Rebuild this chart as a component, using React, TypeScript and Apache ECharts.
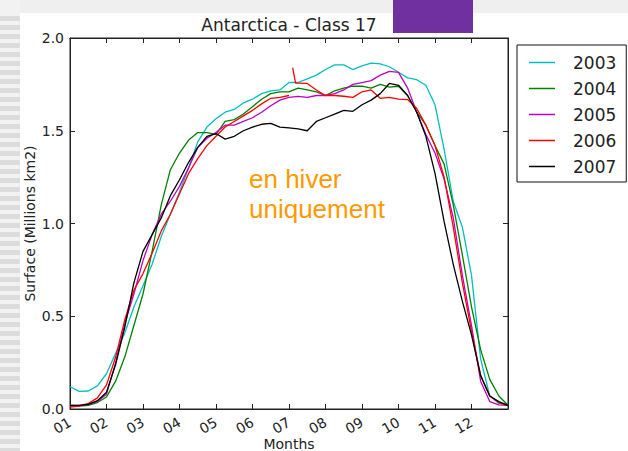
import React, { useEffect, useRef } from 'react';
import * as echarts from 'echarts';

const monthTicks = ['01', '02', '03', '04', '05', '06', '07', '08', '09', '10', '11', '12'];
const years = ['2003', '2004', '2005', '2006', '2007'];
const colors = ['#00bfbf', '#008000', '#bf00bf', '#ff0000', '#000000'];

// sample positions, in months from 1 January
const monthPos = [
  0, 0.25, 0.5, 0.75, 1, 1.25, 1.5, 1.75, 2, 2.25, 2.5, 2.75,
  3, 3.25, 3.5, 3.75, 4, 4.25, 4.5, 4.75, 5, 5.25, 5.5, 5.75,
  6, 6.25, 6.5, 6.75, 7, 7.25, 7.5, 7.75, 8, 8.25, 8.5, 8.75,
  9, 9.25, 9.5, 9.75, 10, 10.25, 10.5, 10.75, 11, 11.25, 11.5, 11.75, 12,
];

const s2003 = [
  0.12, 0.095, 0.097, 0.125, 0.19, 0.30, 0.41, 0.55, 0.665, 0.78, 0.93, 1.05,
  1.17, 1.30, 1.44, 1.52, 1.565, 1.60, 1.615, 1.65, 1.67, 1.70, 1.715, 1.72,
  1.76, 1.76, 1.78, 1.80, 1.83, 1.855, 1.855, 1.83, 1.85, 1.865, 1.86, 1.845,
  1.815, 1.785, 1.775, 1.745, 1.64, 1.40, 1.12, 0.98, 0.72, 0.27, 0.07, 0.03, 0.02,
];
const s2004 = [
  0.015, 0.015, 0.02, 0.035, 0.065, 0.15, 0.28, 0.45, 0.62, 0.85, 1.10, 1.29,
  1.38, 1.45, 1.49, 1.49, 1.48, 1.55, 1.56, 1.59, 1.63, 1.67, 1.70, 1.71,
  1.71, 1.73, 1.72, 1.71, 1.69, 1.715, 1.73, 1.74, 1.74, 1.73, 1.75, 1.735,
  1.74, 1.69, 1.60, 1.53, 1.42, 1.32, 1.10, 0.83, 0.55, 0.32, 0.16, 0.07, 0.02,
];
const s2005 = [
  0.02, 0.02, 0.025, 0.04, 0.08, 0.25, 0.46, 0.62, 0.80, 0.94, 1.05, 1.12,
  1.20, 1.30, 1.41, 1.46, 1.49, 1.53, 1.53, 1.55, 1.57, 1.60, 1.635, 1.665,
  1.68, 1.685, 1.68, 1.69, 1.69, 1.70, 1.72, 1.75, 1.76, 1.77, 1.80, 1.82,
  1.815, 1.73, 1.60, 1.48, 1.38, 1.24, 1.03, 0.72, 0.45, 0.15, 0.04, 0.022, 0.02,
];
const s2006 = [
  0.01, 0.015, 0.03, 0.06, 0.13, 0.28, 0.48, 0.64, 0.73, 0.84, 0.96, 1.05,
  1.16, 1.27, 1.35, 1.42, 1.47, 1.52, 1.55, 1.58, 1.61, 1.645, 1.675, 1.68,
  1.69, 1.757, 1.755, 1.72, 1.69, 1.69, 1.686, 1.68, 1.71, 1.72, 1.675, 1.68,
  1.67, 1.668, 1.62, 1.53, 1.42, 1.25, 0.98, 0.68, 0.42, 0.18, 0.07, 0.035, 0.02,
];
// break in the 2006 record, then the spike
const s2006ExtraPos = [6.05, 6.1, 6.18];
const s2006ExtraVal: (number | null)[] = [null, 1.84, 1.757];
const s2007 = [
  0.02, 0.02, 0.025, 0.045, 0.09, 0.24, 0.44, 0.68, 0.85, 0.94, 1.03, 1.15,
  1.236, 1.33, 1.41, 1.47, 1.485, 1.455, 1.47, 1.50, 1.52, 1.535, 1.54, 1.52,
  1.515, 1.51, 1.50, 1.55, 1.57, 1.59, 1.61, 1.605, 1.64, 1.665, 1.70, 1.755,
  1.745, 1.69, 1.60, 1.47, 1.27, 1.01, 0.78, 0.58, 0.40, 0.18, 0.07, 0.04, 0.02,
];

const yTicks = [0, 0.5, 1, 1.5, 2];
const FONT = 'DejaVu Sans';
const INK = '#222';

function pairs(pos: number[], vals: (number | null)[]) {
  return pos.map((p, i) => [p, vals[i]] as [number, number | null]);
}

export default function App() {
  const ref = useRef<HTMLDivElement>(null);

  useEffect(() => {
    document.body.style.margin = '0';
    if (!ref.current) return;
    const chart = echarts.init(ref.current, undefined, { renderer: 'svg' });

    const red = pairs(monthPos, s2006)
      .concat(pairs(s2006ExtraPos, s2006ExtraVal))
      .sort((a, b) => a[0] - b[0]);
    const allData = [
      pairs(monthPos, s2003),
      pairs(monthPos, s2004),
      pairs(monthPos, s2005),
      red,
      pairs(monthPos, s2007),
    ];

    const stripes: any[] = [];
    for (let y = 16; y < 451; y += 9) {
      stripes.push({
        type: 'rect',
        shape: { x: 0, y, width: 20, height: 5 },
        style: { fill: '#dcdcdc' },
        silent: true,
      });
    }

    chart.setOption({
      animation: false,
      backgroundColor: '#ffffff',
      title: {
        text: 'Antarctica - Class 17',
        left: 289,
        top: 16,
        padding: 0,
        textAlign: 'center',
        textStyle: { fontFamily: FONT, fontSize: 17, fontWeight: 'normal', color: INK },
      },
      legend: {
        orient: 'vertical',
        left: 517,
        top: 45,
        data: years,
        icon: 'rect',
        padding: [9, 10, 7, 12],
        itemWidth: 26,
        itemHeight: 1.5,
        itemGap: 9,
        borderColor: '#111',
        borderWidth: 1,
        backgroundColor: '#fff',
        textStyle: {
          fontFamily: FONT,
          fontSize: 17,
          color: INK,
          lineHeight: 16,
          padding: [0, 0, 0, 13],
        },
      },
      grid: {
        left: 70,
        right: 120,
        top: 38,
        bottom: 42,
        containLabel: false,
        outerBoundsMode: 'none',
        show: true,
        borderColor: '#222',
        borderWidth: 1,
        backgroundColor: '#fff',
      },
      xAxis: [
        {
          type: 'value',
          min: 0,
          max: 12,
          interval: 1,
          position: 'bottom',
          axisLine: { show: true, onZero: false, lineStyle: { color: INK, width: 1 } },
          axisTick: { show: true, inside: true, length: 5, lineStyle: { color: INK } },
          axisLabel: {
            rotate: 30,
            margin: 12,
            fontFamily: FONT,
            fontSize: 14,
            color: INK,
            formatter: (v: number) => monthTicks[Math.round(v)] ?? '',
          },
          splitLine: { show: false },
          name: 'Months',
          nameLocation: 'middle',
          nameGap: 28,
          nameMoveOverlap: false,
          nameTextStyle: { fontFamily: FONT, fontSize: 14, color: INK },
        },
        {
          type: 'value',
          min: 0,
          max: 12,
          interval: 1,
          position: 'top',
          axisLine: { show: true, onZero: false, lineStyle: { color: INK, width: 1 } },
          axisTick: { show: true, inside: true, length: 5, lineStyle: { color: INK } },
          axisLabel: { show: false },
          splitLine: { show: false },
        },
      ],
      yAxis: [
        {
          type: 'value',
          min: yTicks[0],
          max: yTicks[yTicks.length - 1],
          interval: 0.5,
          position: 'left',
          axisLine: { show: true, onZero: false, lineStyle: { color: INK, width: 1 } },
          axisTick: { show: true, inside: true, length: 5, lineStyle: { color: INK } },
          axisLabel: {
            margin: 6,
            fontFamily: FONT,
            fontSize: 14,
            color: INK,
            formatter: (v: number) => v.toFixed(1),
          },
          splitLine: { show: false },
          name: 'Surface (Millions km2)',
          nameLocation: 'middle',
          nameRotate: 90,
          nameGap: 33,
          nameMoveOverlap: false,
          nameTextStyle: { fontFamily: FONT, fontSize: 14, color: INK },
        },
        {
          type: 'value',
          min: 0,
          max: 2,
          interval: 0.5,
          position: 'right',
          axisLine: { show: true, onZero: false, lineStyle: { color: INK, width: 1 } },
          axisTick: { show: true, inside: true, length: 5, lineStyle: { color: INK } },
          axisLabel: { show: false },
          splitLine: { show: false },
        },
      ],
      series: years.map((y, i) => ({
        name: y,
        type: 'line',
        xAxisIndex: 0,
        yAxisIndex: 0,
        data: allData[i],
        symbol: 'none',
        connectNulls: false,
        color: colors[i],
        lineStyle: { width: 1.3, color: colors[i] },
        z: 3 + i,
      })),
      graphic: [
        {
          type: 'rect',
          shape: { x: 0, y: 0, width: 628, height: 13 },
          style: { fill: '#efefef' },
          silent: true,
          z: 0,
        },
        {
          type: 'rect',
          shape: { x: 0, y: 0, width: 20, height: 451 },
          style: { fill: '#f2f2f2' },
          silent: true,
          z: 0,
        },
        { type: 'group', z: 0, children: stripes },
        {
          type: 'rect',
          shape: { x: 393, y: 0, width: 80, height: 33 },
          style: { fill: '#7030a0' },
          z: 10,
        },
        {
          type: 'text',
          x: 249,
          y: 164,
          z: 10,
          style: {
            text: 'en hiver\nuniquement',
            fill: '#ff9900',
            fontFamily: 'Liberation Sans, Arial, sans-serif',
            fontSize: 26,
            lineHeight: 30,
            verticalAlign: 'top',
            align: 'left',
          },
        },
      ],
    });

    return () => chart.dispose();
  }, []);

  return (
    <div
      ref={ref}
      style={{ position: 'absolute', left: 0, top: 0, width: 628, height: 451 }}
    />
  );
}
